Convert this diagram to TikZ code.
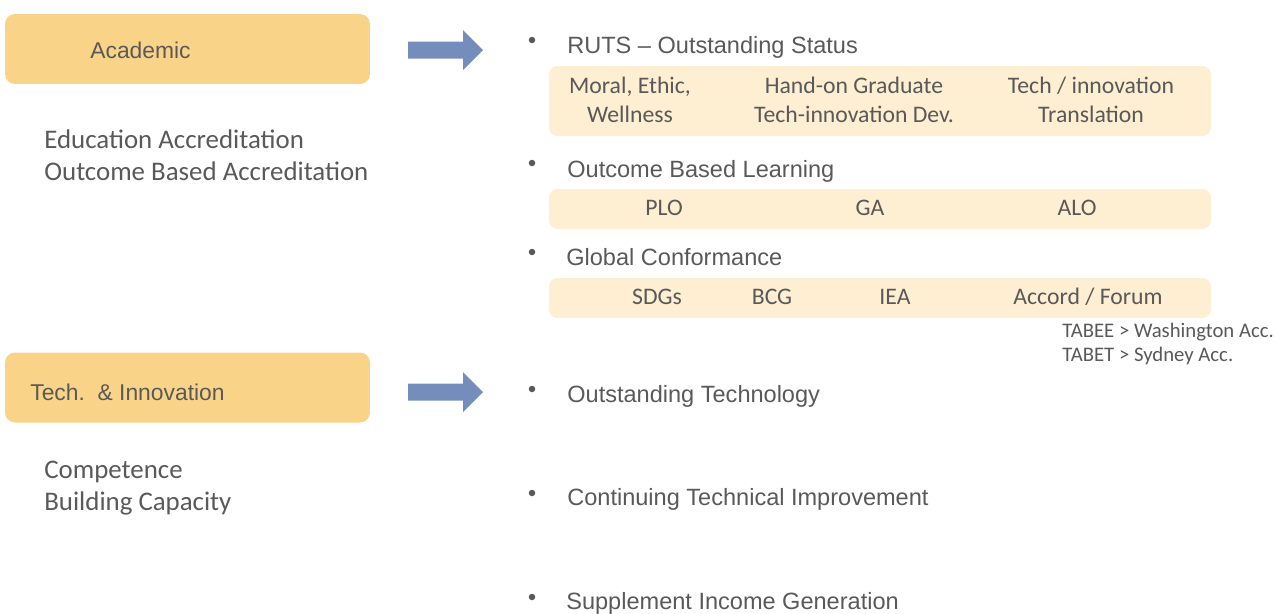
\documentclass[tikz,border=0pt]{standalone}
\usepackage{fontspec}
\setmainfont{Liberation Sans}
\newfontfamily\calfont{Carlito}
\usetikzlibrary{positioning}
\definecolor{txtgray}{RGB}{89,89,89}
\definecolor{gold}{RGB}{249,212,136}
\definecolor{cream}{RGB}{254,238,210}
\definecolor{steel}{RGB}{116,141,187}

\begin{document}
\begin{tikzpicture}[x=0.02cm,y=-0.02cm,
	every node/.style={text=txtgray,inner sep=0pt},
	headbox/.style={fill=gold,rounded corners=0.2cm,minimum width=7.3cm,minimum height=1.4cm},
	subbox/.style={fill=cream,rounded corners=0.17cm,minimum width=13.24cm},
	dot/.style={circle,fill=txtgray,minimum size=0.13cm},
	head/.style={anchor=base west,font=\fontsize{13}{15}\selectfont},
	item/.style={anchor=base west,font=\fontsize{13.4}{15}\selectfont},
	side/.style={anchor=base west,font=\calfont\fontsize{15.3}{18}\selectfont,align=left},
	cell/.style={anchor=base,font=\calfont\fontsize{13.5}{16.4}\selectfont,align=center},
	note/.style={anchor=base west,font=\calfont\fontsize{11.8}{13.6}\selectfont}]
	
	\useasboundingbox (0,0) rectangle (1275,613);
	
	% left column
	\node[headbox] (acad) at (187.5,49) {};
	\node[head] (acadtxt) at (90,58) {Academic};
	\node[side] (edu1) at (44,148) {Education Accreditation};
	\node[side] (edu2) at (44,180) {Outcome Based Accreditation};
	
	\node[headbox] (tech) at (187.5,387.5) {};
	\node[head] (techtxt) at (30,400) {Tech.\ \ \& Innovation};
	\node[side] (comp1) at (44,478) {Competence};
	\node[side] (comp2) at (44,510) {Building Capacity};
	
	% block arrows
	\foreach \ay in {50,392}
		\fill[steel] (408,\ay-8.5) -- (463,\ay-8.5) -- (463,\ay-20) -- (483,\ay)
			-- (463,\ay+20) -- (463,\ay+8.5) -- (408,\ay+8.5) -- cycle;
	
	% academic items (base of a two-line cell = its last line)
	\node[dot] (d1) at (532,40) {};
	\node[item] (ruts) at (567,53) {RUTS -- Outstanding Status};
	\node[subbox,minimum height=1.4cm] (b1) at (880,101) {};
	\node[cell] (moral) at (630,122) {Moral, Ethic,\\Wellness};
	\node[cell] (grad) at (854,122) {Hand-on Graduate\\Tech-innovation Dev.};
	\node[cell] (trans) at (1091,122) {Tech / innovation\\Translation};
	
	\node[dot] (d2) at (532,163) {};
	\node[item] (obl) at (567,177) {Outcome Based Learning};
	\node[subbox,minimum height=0.8cm] (b2) at (880,209) {};
	\node[cell] (plo) at (664,215) {PLO};
	\node[cell] (ga) at (870,215) {GA};
	\node[cell] (alo) at (1077,215) {ALO};
	
	\node[dot] (d3) at (532,252) {};
	\node[item] (glob) at (566,265) {Global Conformance};
	\node[subbox,minimum height=0.8cm] (b3) at (880,298) {};
	\node[cell] (sdg) at (657,304) {SDGs};
	\node[cell] (bcg) at (772,304) {BCG};
	\node[cell] (iea) at (895,304) {IEA};
	\node[cell] (accord) at (1088,304) {Accord / Forum};
	\node[note] (tabee) at (1062,337) {TABEE > Washington Acc.};
	\node[note] (tabet) at (1062,361) {TABET > Sydney Acc.};
	
	% tech items
	\node[dot] (d4) at (532,389) {};
	\node[item] (otech) at (567,402) {Outstanding Technology};
	\node[dot] (d5) at (532,493) {};
	\node[item] (cont) at (567,505) {Continuing Technical Improvement};
	\node[dot] (d6) at (532,597) {};
	\node[item] (supp) at (566,609) {Supplement Income Generation};
	
\end{tikzpicture}
\end{document}
